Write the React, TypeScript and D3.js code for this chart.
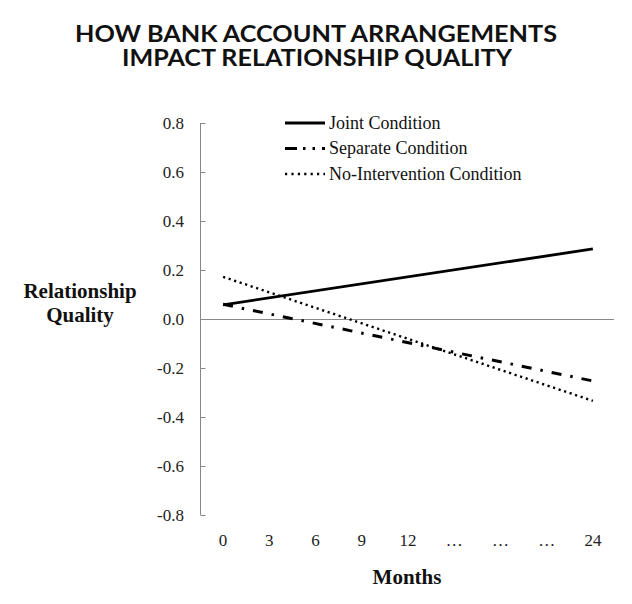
import React from 'react';
import * as d3 from 'd3';

const WIDTH = 632;
const HEIGHT = 604;

// x categories (the "…" slots are placeholders between 12 and 24)
const months = ['0', '3', '6', '9', '12', '…', '…', '…', '24'];
const yTicks = [0.8, 0.6, 0.4, 0.2, 0.0, -0.2, -0.4, -0.6, -0.8];

// each series is a straight line, read at month 0 and month 24
const seriesIndex = [0, 8];
const jointValues = [0.058, 0.286];
const separateValues = [0.06, -0.253];
const noInterventionValues = [0.172, -0.334];

const seriesNames = ['Joint Condition', 'Separate Condition', 'No-Intervention Condition'];

const SERIF = '"Liberation Serif", "Times New Roman", serif';

const styles = [
  { width: 2.8, dash: null, legendDash: null },
  { width: 3, dash: '10,9,2.5,9', legendDash: '12,6,2.5,7,2.5,7' },
  { width: 2.4, dash: '2.2,3.6', legendDash: '2.2,4.2' },
];

const fmt = (d: number) => (Math.abs(d) < 1e-9 ? '0.0' : d.toFixed(1));

const App = () => {
  const x = d3
    .scalePoint<number>()
    .domain(months.map((_, i) => i))
    .range([200, 616])
    .padding(0.5);

  const y = d3.scaleLinear().domain([-0.8, 0.8]).range([515, 123]);

  const line = d3
    .line<[number, number]>()
    .x((d) => x(d[0]) as number)
    .y((d) => y(d[1]));

  const series = [jointValues, separateValues, noInterventionValues].map((vals) =>
    vals.map((v, i) => [seriesIndex[i], v] as [number, number])
  );

  return (
    <svg width={WIDTH} height={HEIGHT} style={{ position: 'absolute', left: 0, top: 0 }}>
      <rect width={WIDTH} height={HEIGHT} fill="#fff" />
      {/* title */}
      <g fontFamily='Lato, "Open Sans", sans-serif' fontWeight={700} fontSize={23} textAnchor="middle" fill="#111">
        <text x={316} y={42} textLength={482} lengthAdjust="spacingAndGlyphs">
          HOW BANK ACCOUNT ARRANGEMENTS
        </text>
        <text x={317} y={66} textLength={390} lengthAdjust="spacingAndGlyphs">
          IMPACT RELATIONSHIP QUALITY
        </text>
      </g>

      {/* y axis */}
      <line x1={200.5} x2={200.5} y1={y(0.8)} y2={y(-0.8)} stroke="#888" strokeWidth={1} />
      {yTicks.map((t) => (
        <g key={t} transform={`translate(0, ${Math.round(y(t)) + 0.5})`}>
          <line x1={200.5} x2={205.5} stroke="#888" strokeWidth={1} />
          <text x={184} dy="0.35em" textAnchor="end" fontFamily={SERIF} fontSize={17} fill="#222">
            {fmt(t)}
          </text>
        </g>
      ))}
      {/* zero line */}
      <line x1={200.5} x2={614} y1={Math.round(y(0)) + 0.5} y2={Math.round(y(0)) + 0.5} stroke="#888" strokeWidth={1} />

      {/* x labels */}
      {months.map((m, i) => (
        <text
          key={`m-${i}`}
          x={x(i)}
          y={546}
          textAnchor="middle"
          fontFamily={SERIF}
          fontSize={17}
          fill="#222"
        >
          {m}
        </text>
      ))}

      {/* axis titles */}
      <g fontFamily={SERIF} fontWeight={700} fontSize={21} textAnchor="middle" fill="#111">
        <text x={80} y={298}>Relationship</text>
        <text x={80} y={322}>Quality</text>
        <text x={407} y={584}>Months</text>
      </g>

      {/* series */}
      {series.map((pts, i) => (
        <path
          key={`s-${i}`}
          d={line(pts) || ''}
          fill="none"
          stroke="#000"
          strokeWidth={styles[i].width}
          strokeDasharray={styles[i].dash || undefined}
        />
      ))}

      {/* legend */}
      {seriesNames.map((name, i) => {
        const ly = 123 + i * 25.5;
        return (
          <g key={name}>
            <line
              x1={285}
              x2={325}
              y1={ly}
              y2={ly}
              stroke="#000"
              strokeWidth={styles[i].width}
              strokeDasharray={styles[i].legendDash || undefined}
            />
            <text x={329} y={ly} dy="0.33em" fontFamily={SERIF} fontSize={18} fill="#111">
              {name}
            </text>
          </g>
        );
      })}
    </svg>
  );
};

export default App;
